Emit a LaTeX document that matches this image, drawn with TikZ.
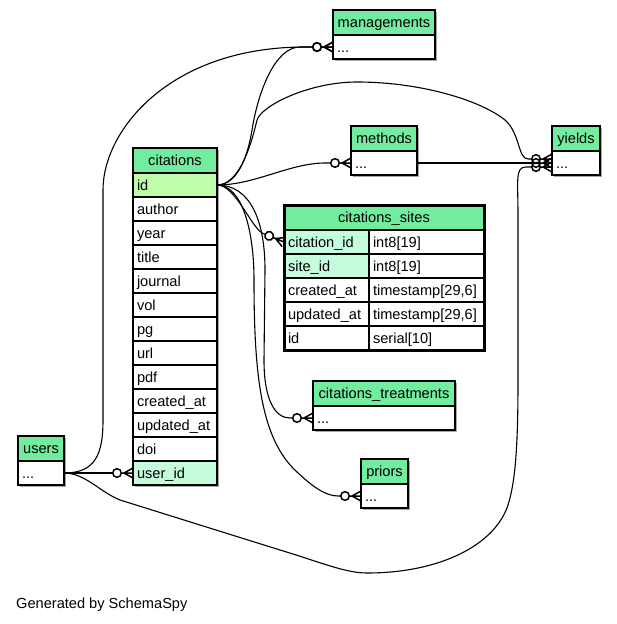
\documentclass[tikz,border=0pt]{standalone}
\usepackage{fontspec}
\setmainfont{Liberation Sans}
\usetikzlibrary{positioning,arrows.meta,backgrounds}

\definecolor{hdrgreen}{HTML}{72EC9E}
\definecolor{pkgreen}{HTML}{BEFEA8}
\definecolor{fkgreen}{HTML}{C5FCDC}
\definecolor{shadowgray}{HTML}{A8A8A8}

% zero-or-many end: open circle and crow's foot
\pgfdeclarearrow{
    name = crowodot,
    setup code = {
        \pgfarrowssettipend{0pt}
        \pgfarrowssetlineend{-20.5pt}
        \pgfarrowssetbackend{-20.5pt}
        \pgfarrowsupperhullpoint{0pt}{5pt}
        \pgfarrowsupperhullpoint{-20.5pt}{4.5pt}
    },
    drawing code = {
        \pgfsetdash{}{0pt}
        \pgfsetlinewidth{1.5pt}
        \pgfpathmoveto{\pgfpoint{-12pt}{0pt}}
        \pgfpathlineto{\pgfpoint{0pt}{0pt}}
        \pgfpathmoveto{\pgfpoint{0pt}{5pt}}
        \pgfpathlineto{\pgfpoint{-9pt}{0pt}}
        \pgfpathlineto{\pgfpoint{0pt}{-5pt}}
        \pgfpathcircle{\pgfpoint{-16pt}{0pt}}{4.3pt}
        \pgfusepathqstroke
    },
}

\newcommand{\tblshadow}[2]{%
    \fill[shadowgray] ([xshift=1.5pt,yshift=-1.5pt]#1.north west) rectangle ([xshift=1.5pt,yshift=-1.5pt]#2.south east);}

\begin{document}
\begin{tikzpicture}[x=1pt, y=-1pt, every node/.style={font=\fontsize{14.6}{17}\selectfont},
    tbl/.style={draw, line width=1.3pt, anchor=north west, inner xsep=4pt, inner ysep=0pt, outer sep=0pt, text height=12pt, text depth=2pt},
    hdr/.style={tbl, fill=hdrgreen, minimum height=25pt, align=center},
    fld/.style={tbl, fill=white, minimum height=24pt, align=left},
    pkfld/.style={fld, fill=pkgreen},
    fkfld/.style={fld, fill=fkgreen},
    rel/.style={line width=1.1pt, -{crowodot}},
    citw/.style={text width=76pt}]
    \useasboundingbox (0,0) rectangle (617,624);

    % managements
    \node[hdr, text width=94pt] (man-head) at (333,10) {managements};
    \node[fld, text width=94pt, below=0pt of man-head] (man-body) {...};

    % methods
    \node[hdr, text width=58pt] (met-head) at (351,126) {methods};
    \node[fld, text width=58pt, below=0pt of met-head] (met-body) {...};

    % yields
    \node[hdr, text width=40pt] (yld-head) at (552,126) {yields};
    \node[fld, text width=40pt, below=0pt of yld-head] (yld-body) {...};

    % citations
    \node[hdr, citw] (cit-head) at (133,148) {citations};
    \node[pkfld, citw, below=0pt of cit-head] (cit-id) {id};
    \node[fld, citw, below=0pt of cit-id] (cit-author) {author};
    \node[fld, citw, below=0pt of cit-author] (cit-year) {year};
    \node[fld, citw, below=0pt of cit-year] (cit-title) {title};
    \node[fld, citw, below=0pt of cit-title] (cit-journal) {journal};
    \node[fld, citw, below=0pt of cit-journal] (cit-vol) {vol};
    \node[fld, citw, below=0pt of cit-vol] (cit-pg) {pg};
    \node[fld, citw, below=0pt of cit-pg] (cit-url) {url};
    \node[fld, citw, below=0pt of cit-url] (cit-pdf) {pdf};
    \node[fld, citw, below=0pt of cit-pdf] (cit-created) {created\_at};
    \node[fld, citw, below=0pt of cit-created] (cit-updated) {updated\_at};
    \node[fld, citw, below=0pt of cit-updated] (cit-doi) {doi};
    \node[fkfld, citw, below=0pt of cit-doi] (cit-uid) {user\_id};

    % citations_sites
    \node[hdr, text width=192pt] (cs-head) at (284,205) {citations\_sites};
    \node[fkfld, text width=77pt] (cs-cid) at (cs-head.south west) {citation\_id};
    \node[fld, text width=107pt, right=0pt of cs-cid] (cs-cid-t) {int8[19]};
    \node[fkfld, text width=77pt] (cs-sid) at (cs-cid.south west) {site\_id};
    \node[fld, text width=107pt, right=0pt of cs-sid] (cs-sid-t) {int8[19]};
    \node[fld, text width=77pt] (cs-cat) at (cs-sid.south west) {created\_at};
    \node[fld, text width=107pt, right=0pt of cs-cat] (cs-cat-t) {timestamp[29,6]};
    \node[fld, text width=77pt] (cs-uat) at (cs-cat.south west) {updated\_at};
    \node[fld, text width=107pt, right=0pt of cs-uat] (cs-uat-t) {timestamp[29,6]};
    \node[fld, text width=77pt] (cs-id) at (cs-uat.south west) {id};
    \node[fld, text width=107pt, right=0pt of cs-id] (cs-id-t) {serial[10]};
    \draw[line width=3pt] (cs-head.north west) rectangle (cs-id-t.south east);

    % citations_treatments
    \node[hdr, text width=134pt] (ct-head) at (313,381) {citations\_treatments};
    \node[fld, text width=134pt, below=0pt of ct-head] (ct-body) {...};

    % priors
    \node[hdr, text width=39pt] (pri-head) at (361,459) {priors};
    \node[fld, text width=39pt, below=0pt of pri-head] (pri-body) {...};

    % users
    \node[hdr, text width=38pt] (usr-head) at (18,436) {users};
    \node[fld, text width=38pt, below=0pt of usr-head] (usr-body) {...};

    % shadows
    \begin{scope}[on background layer]
        \tblshadow{man-head}{man-body}
        \tblshadow{met-head}{met-body}
        \tblshadow{yld-head}{yld-body}
        \tblshadow{cit-head}{cit-uid}
        \tblshadow{cs-head}{cs-id-t}
        \tblshadow{ct-head}{ct-body}
        \tblshadow{pri-head}{pri-body}
        \tblshadow{usr-head}{usr-body}
    \end{scope}

    % relations from users
    \draw[rel] (usr-body.east) -- (cit-uid.west);
    \draw[rel] (usr-body.east) .. controls (95,473) and (103,455) .. (103,420) -- (103,190) .. controls (103,130) and (170,47) .. (305,47) -- (man-body.west);
    \draw[rel] (usr-body.east) .. controls (85,473) and (100,492) .. (120,500) -- (280,550) .. controls (320,562) and (345,573) .. (367,573) .. controls (440,573) and (495,545) .. (508,505) .. controls (516,480) and (518,440) .. (518,380) -- (518,215) .. controls (518,180) and (515,167) .. (526,167) -- ([yshift=-4pt]yld-body.west);

    % relations from citations
    \draw[rel] (cit-id.east) .. controls (238,185) and (248,155) .. (252,130) .. controls (258,92) and (275,47) .. (300,47) -- (man-body.west);
    \draw[rel] (cit-id.east) .. controls (238,185) and (250,150) .. (257,120) .. controls (262,105) and (310,82) .. (357,82) .. controls (420,82) and (480,100) .. (505,120) .. controls (520,133) and (518,159) .. (528,159) -- ([yshift=4pt]yld-body.west);
    \draw[rel] (cit-id.east) .. controls (255,185) and (290,163) .. (325,163) -- (met-body.west);
    \draw[rel] (cit-id.east) .. controls (235,185) and (250,225) .. (262,233) -- (cs-cid.west);
    \draw[rel] (cit-id.east) .. controls (250,185) and (265,220) .. (265,270) -- (264,360) .. controls (264,400) and (275,418) .. (290,418) -- (ct-body.west);
    \draw[rel] (cit-id.east) .. controls (242,185) and (254,230) .. (254,280) .. controls (254,380) and (262,440) .. (297,472) .. controls (312,486) and (325,496) .. (338,496) -- (pri-body.west);

    % methods to yields
    \draw[rel] (met-body.east) -- (yld-body.west);

    % footer
    \node[anchor=base west, inner sep=0pt] (footer) at (16,608) {Generated by SchemaSpy};
\end{tikzpicture}
\end{document}
